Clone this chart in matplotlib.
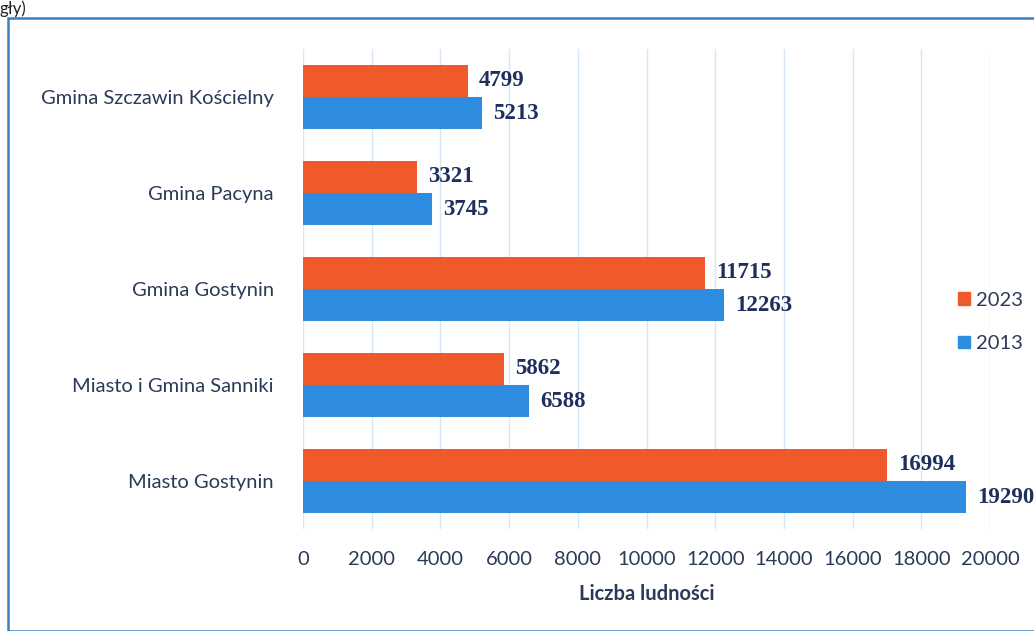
import matplotlib.pyplot as plt
from matplotlib.patches import Rectangle, Patch
import numpy as np

# data
categories = ['Gmina Szczawin Kościelny', 'Gmina Pacyna', 'Gmina Gostynin',
              'Miasto i Gmina Sanniki', 'Miasto Gostynin']
pop_2023 = [4799, 3321, 11715, 5862, 16994]
pop_2013 = [5213, 3745, 12263, 6588, 19290]
xticks = [0, 2000, 4000, 6000, 8000, 10000, 12000, 14000, 16000, 18000, 20000]

red = '#F0592B'
blue = '#2E8DE0'
navy = '#1F2F5C'
txt = '#2A3A58'
label_font = 'Lato'

fig = plt.figure(figsize=(10.34, 6.31), dpi=100)
ax = fig.add_axes([303/1034, 1 - 529/631, 687/1034, 480/631])

y = np.arange(len(categories))
h = 0.335
ax.barh(y - h/2, pop_2023, height=h, color=red, label='2023', zorder=3)
ax.barh(y + h/2, pop_2013, height=h, color=blue, label='2013', zorder=3)

for i in range(len(categories)):
    ax.annotate(str(pop_2023[i]), (pop_2023[i], y[i] - h/2), xytext=(8, 0),
                textcoords='offset points', va='center', ha='left',
                fontsize=16.5, fontweight='bold', family='Liberation Serif',
                color=navy, annotation_clip=False)
    ax.annotate(str(pop_2013[i]), (pop_2013[i], y[i] + h/2), xytext=(8, 0),
                textcoords='offset points', va='center', ha='left',
                fontsize=16.5, fontweight='bold', family='Liberation Serif',
                color=navy, annotation_clip=False)

ax.set_ylim(len(categories) - 0.5, -0.5)
ax.set_xlim(0, 20000)
ax.set_yticks(y)
ax.set_yticklabels(categories, fontsize=14.5, family=label_font, color=txt)
ax.set_xticks(xticks)
ax.set_xticklabels([str(t) for t in xticks], fontsize=14.5, family=label_font, color=txt)
ax.tick_params(length=0)
ax.tick_params(axis='y', pad=21)
ax.tick_params(axis='x', pad=16)
ax.grid(axis='x', color='#D6E6F4', linewidth=1, zorder=0)
for s in ax.spines.values():
    s.set_visible(False)
ax.set_xlabel('Liczba ludności', fontsize=14.5, fontweight='bold', family=label_font,
              color=txt, labelpad=11)

handles = [Patch(color=red, label='2023'), Patch(color=blue, label='2013')]
fig.legend(handles=handles, loc='center left', bbox_to_anchor=(940/1034, 1 - 322/631),
           frameon=False, prop={'family': label_font, 'size': 14.5},
           handlelength=0.6, handleheight=0.6, handletextpad=0.3, labelspacing=1.3,
           labelcolor=txt)

# frame of the scanned chart
fig.patches.append(Rectangle((8/1034, 0), 1.2, 1 - 18/631, transform=fig.transFigure,
                             fill=False, edgecolor='#3C7FBF', linewidth=1.8))
fig.text(0.0, 0.999, 'gły)', fontsize=12, family=label_font, va='top', ha='left', color='#222222')

fig.savefig('out.png', dpi=100)
